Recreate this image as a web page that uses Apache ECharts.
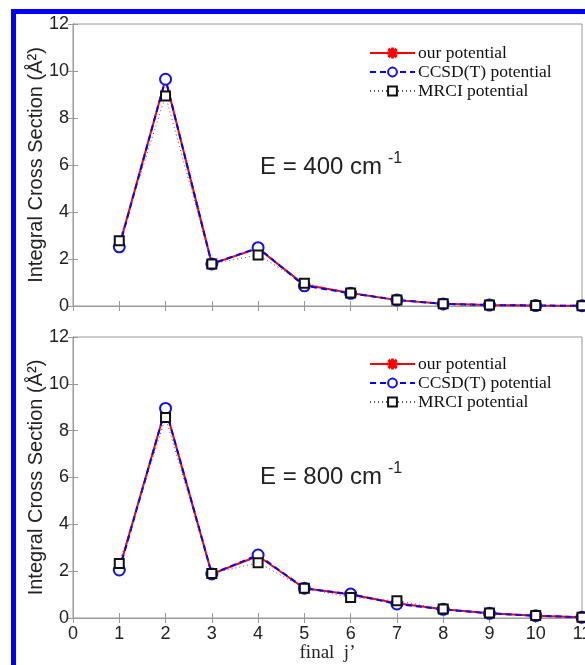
<!DOCTYPE html>
<html>
<head>
<meta charset="utf-8">
<script src="https://cdn.jsdelivr.net/npm/echarts@6/dist/echarts.min.js"></script>
<style>
  html, body { margin: 0; padding: 0; background: #fff; }
  #main { width: 585px; height: 665px; }
</style>
</head>
<body>
<div id="main"></div>
<script>
// final j'
var jFinal = [1, 2, 3, 4, 5, 6, 7, 8, 9, 10, 11];

// E = 400 cm-1
var our400  = [2.55, 9.65, 1.80, 2.45, 0.90, 0.55, 0.25, 0.10, 0.04, 0.02, 0.01];
var ccsd400 = [2.52, 9.65, 1.79, 2.48, 0.86, 0.54, 0.26, 0.09, 0.04, 0.02, 0.01];
var mrci400 = [2.78, 8.94, 1.79, 2.17, 0.97, 0.55, 0.26, 0.10, 0.04, 0.02, 0.01];

// E = 800 cm-1
var our800  = [2.10, 8.95, 1.88, 2.65, 1.27, 1.00, 0.63, 0.37, 0.20, 0.10, 0.03];
var ccsd800 = [2.05, 8.95, 1.88, 2.69, 1.27, 1.02, 0.60, 0.37, 0.20, 0.10, 0.03];
var mrci800 = [2.33, 8.56, 1.90, 2.36, 1.27, 0.88, 0.74, 0.38, 0.21, 0.11, 0.03];

var seriesNames = ['our potential', 'CCSD(T) potential', 'MRCI potential'];
var energies = ['400', '800'];

var starPath = 'path://M9 0 L11 0 L11 20 L9 20 Z M0 9 L20 9 L20 11 L0 11 Z ' +
  'M2.9 1.5 L18.5 17.1 L17.1 18.5 L1.5 2.9 Z M17.1 1.5 L18.5 2.9 L2.9 18.5 L1.5 17.1 Z';

function pairs(vals){
  var out = [];
  for (var i = 0; i < jFinal.length; i++) {
    out.push([jFinal[i], vals[i]]);
  }
  return out;
}

var chart = echarts.init(document.getElementById('main'));

var axisGrey = '#9a9a9a';
var grids = [
  { left: 73, top: 24, width: 509, height: 282, show: true, borderColor: axisGrey, borderWidth: 1, outerBoundsMode: 'none', containLabel: false },
  { left: 73, top: 337, width: 509, height: 281, show: true, borderColor: axisGrey, borderWidth: 1, outerBoundsMode: 'none', containLabel: false }
];

var xAxes = [], yAxes = [];
for (var g = 0; g < 2; g++) {
  xAxes.push({
    gridIndex: g, type: 'value', min: 0, max: 11, interval: 1, position: 'bottom',
    axisLine: { show: true, lineStyle: { color: axisGrey } },
    axisTick: { show: true, inside: true, length: 5, lineStyle: { color: axisGrey } },
    axisLabel: { show: g == 1, color: '#222', fontSize: 18, fontFamily: 'Liberation Sans', margin: 7 },
    splitLine: { show: false },
    name: g == 1 ? "final  j\u2019" : '',
    nameLocation: 'middle', nameGap: 26, nameMoveOverlap: false,
    nameTextStyle: { color: '#222', fontSize: 19, fontFamily: 'Liberation Serif' }
  });
  xAxes.push({
    gridIndex: g, type: 'value', min: 0, max: 11, interval: 1, position: 'top',
    axisLine: { show: true, lineStyle: { color: axisGrey } },
    axisTick: { show: true, inside: true, length: 5, lineStyle: { color: axisGrey } },
    axisLabel: { show: false }, splitLine: { show: false }
  });
  yAxes.push({
    gridIndex: g, type: 'value', min: 0, max: 12, interval: 2, position: 'left',
    axisLine: { show: true, lineStyle: { color: axisGrey } },
    axisTick: { show: true, inside: true, length: 5, lineStyle: { color: axisGrey } },
    axisLabel: { color: '#222', fontSize: 18, fontFamily: 'Liberation Sans', margin: 4 },
    splitLine: { show: false },
    name: 'Integral Cross Section (\u00C5\u00B2)',
    nameLocation: 'middle', nameGap: 27, nameRotate: 90, nameMoveOverlap: false,
    nameTextStyle: { color: '#222', fontSize: 20, fontFamily: 'Liberation Sans' }
  });
  yAxes.push({
    gridIndex: g, type: 'value', min: 0, max: 12, interval: 2, position: 'right',
    axisLine: { show: true, lineStyle: { color: axisGrey } },
    axisTick: { show: true, inside: true, length: 5, lineStyle: { color: axisGrey } },
    axisLabel: { show: false }, splitLine: { show: false }
  });
}

var panelData = [[our400, ccsd400, mrci400], [our800, ccsd800, mrci800]];
var series = [];
for (var p = 0; p < 2; p++) {
  var d = panelData[p];
  series.push({
    name: seriesNames[0], type: 'line', xAxisIndex: p * 2, yAxisIndex: p * 2,
    data: pairs(d[0]), symbol: starPath, symbolSize: 10,
    itemStyle: { color: '#ff0000', borderColor: '#ff0000', borderWidth: 0.8 },
    lineStyle: { color: '#ff0000', width: 2 }
  });
  series.push({
    name: seriesNames[1], type: 'line', xAxisIndex: p * 2, yAxisIndex: p * 2,
    data: pairs(d[1]), symbol: 'emptyCircle', symbolSize: 11,
    itemStyle: { color: '#1010ee', borderColor: '#1010ee', borderWidth: 2.2 },
    lineStyle: { color: '#0000ff', width: 2, type: [6, 4] }
  });
  series.push({
    name: seriesNames[2], type: 'line', xAxisIndex: p * 2, yAxisIndex: p * 2,
    data: pairs(d[2]), symbol: 'emptyRect', symbolSize: 9,
    itemStyle: { color: '#111', borderColor: '#111', borderWidth: 2 },
    lineStyle: { color: '#555', width: 1, type: [1, 3] }
  });
}

var legends = [];
var legendTops = [44, 355];
for (var l = 0; l < 2; l++) {
  legends.push({
    data: seriesNames, orient: 'vertical', left: 369, top: legendTops[l], padding: 0,
    itemWidth: 45, itemHeight: 11, itemGap: 1, selectedMode: false,
    textStyle: { color: '#111', fontSize: 17.5, fontFamily: 'Liberation Serif', lineHeight: 17, padding: [0, 0, 0, -2] }
  });
}

var eTexts = [];
var eY = [170, 480];
for (var k = 0; k < 2; k++) {
  eTexts.push({
    type: 'text', left: 260, top: eY[k] - 15,
    style: { text: 'E = ' + energies[k] + ' cm', fill: '#222', fontSize: 24, fontFamily: 'Liberation Sans' }
  });
  eTexts.push({
    type: 'text', left: 388, top: eY[k] - 19,
    style: { text: '-1', fill: '#222', fontSize: 16, fontFamily: 'Liberation Sans' }
  });
}

var option = {
  backgroundColor: '#fff',
  animation: false,
  grid: grids,
  xAxis: xAxes,
  yAxis: yAxes,
  legend: legends,
  series: series,
  graphic: [
    { type: 'rect', shape: { x: 11, y: 9, width: 574, height: 5 }, style: { fill: '#0000ff' } },
    { type: 'rect', shape: { x: 11, y: 9, width: 5, height: 656 }, style: { fill: '#0000ff' } }
  ].concat(eTexts)
};

chart.setOption(option);
</script>
</body>
</html>
